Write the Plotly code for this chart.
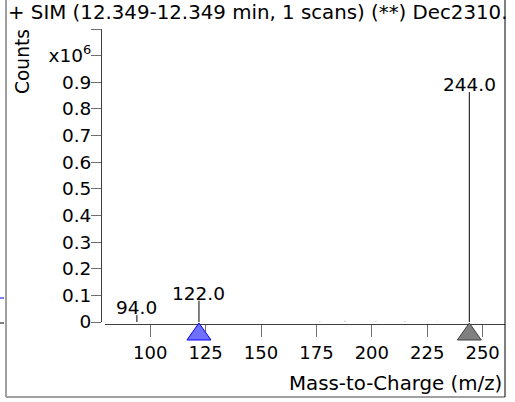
import plotly.graph_objects as go

# ---- data ----
peak_mz = [94.0, 122.0, 244.0]
peak_counts = [26000, 80000, 863000]
peak_labels = ["94.0", "122.0", "244.0"]
noise_mz = [176.6, 187.9, 201.9, 215.0, 229.5]
noise_counts = [3000, 5000, 4000, 4000, 2000]
ion_mz = [122.0, 244.0]
ion_fill = ["#7070ff", "#808080"]
ion_line = ["#0000ff", "#404040"]
x_ticks = [100, 125, 150, 175, 200, 225, 250]
y_ticks = [0, 100000, 200000, 300000, 400000, 500000, 600000, 700000, 800000, 900000, 1000000]
y_ticktext = ["0", "0.1", "0.2", "0.3", "0.4", "0.5", "0.6", "0.7", "0.8", "0.9", "x10<sup>6</sup>"]
y_top = 1100000
title_text = "+ SIM (12.349-12.349 min, 1 scans) (**) Dec2310."
x_title = "Mass-to-Charge (m/z)"
y_title = "Counts"

W, H = 515, 402
L, R, T, B = 101, 10, 29, 78
PW, PH = W - L - R, H - T - B
FONT = "DejaVu Sans"


def px(x):
    return (x - L) / PW


def py(y):
    return (H - B - y) / PH


def stems(xs, ys):
    sx, sy = [], []
    for a, b in zip(xs, ys):
        sx += [a, a, None]
        sy += [0, b, None]
    return sx, sy


fig = go.Figure()
nx, ny = stems(noise_mz, noise_counts)
fig.add_trace(go.Scatter(x=nx, y=ny, mode="lines", line=dict(color="#b0b0b0", width=1),
                         hoverinfo="skip", showlegend=False))
sx, sy = stems(peak_mz, peak_counts)
fig.add_trace(go.Scatter(x=sx, y=sy, mode="lines", line=dict(color="#000000", width=1),
                         hoverinfo="skip", showlegend=False))

annotations = []
for m, c, t in zip(peak_mz, peak_counts, peak_labels):
    annotations.append(dict(x=m, y=c, xref="x", yref="y", text=t, showarrow=False,
                            xanchor="center", yanchor="bottom", yshift=-5,
                            font=dict(family=FONT, size=18.5, color="#000")))
annotations.append(dict(x=px(6), y=py(12), xref="paper", yref="paper", text=title_text,
                        showarrow=False, xanchor="left", yanchor="middle",
                        font=dict(family=FONT, size=19.8, color="#000")))
annotations.append(dict(x=px(504), y=py(383), xref="paper", yref="paper", text=x_title,
                        showarrow=False, xanchor="right", yanchor="middle",
                        font=dict(family=FONT, size=19.8, color="#000")))
annotations.append(dict(x=px(22), y=py(62), xref="paper", yref="paper", text=y_title,
                        showarrow=False, xanchor="center", yanchor="middle", textangle=-90,
                        font=dict(family=FONT, size=18.6, color="#000")))

shapes = []
for m, fc, lc in zip(ion_mz, ion_fill, ion_line):
    shapes.append(dict(type="path", xref="x", yref="paper", xsizemode="pixel", ysizemode="pixel",
                       xanchor=m, yanchor=0, path="M0,1 L-12,-16 L12,-16 Z",
                       fillcolor=fc, line=dict(color=lc, width=1), layer="above"))
# frame
shapes.append(dict(type="line", xref="paper", yref="paper", x0=px(6), x1=px(6), y0=py(0), y1=py(397),
                   line=dict(color="#a0a0a0", width=2)))
shapes.append(dict(type="line", xref="paper", yref="paper", x0=px(6), x1=px(505), y0=py(397), y1=py(397),
                   line=dict(color="#a0a0a0", width=2)))
shapes.append(dict(type="line", xref="paper", yref="paper", x0=px(505), x1=px(505), y0=py(0), y1=py(397),
                   line=dict(color="#000000", width=1)))
# fragments of neighbouring panel
shapes.append(dict(type="line", xref="paper", yref="paper", x0=px(0), x1=px(4), y0=py(298), y1=py(298),
                   line=dict(color="#0000ff", width=1)))
shapes.append(dict(type="line", xref="paper", yref="paper", x0=px(0), x1=px(4), y0=py(323), y1=py(323),
                   line=dict(color="#000000", width=1)))

fig.update_layout(
    width=W, height=H,
    margin=dict(l=L, r=R, t=T, b=B, autoexpand=False),
    paper_bgcolor="white", plot_bgcolor="white",
    showlegend=False,
    annotations=annotations,
    shapes=shapes,
    xaxis=dict(domain=[4 / PW, 1], range=[79.6, 260.1], anchor="free", position=0,
               showline=True, linecolor="#404040", linewidth=1, showgrid=False, zeroline=False,
               ticks="outside", ticklen=12, tickcolor="#707070", tickwidth=1,
               tickvals=x_ticks, ticktext=[str(v) for v in x_ticks],
               tickfont=dict(family=FONT, size=18, color="#000")),
    yaxis=dict(domain=[2 / PH, 1], range=[0, y_top], anchor="free", position=0,
               showline=True, linecolor="#404040", linewidth=1, showgrid=False, zeroline=False,
               ticks="outside", ticklen=10, tickcolor="#707070", tickwidth=1,
               ticklabelstandoff=-4,
               tickvals=y_ticks, ticktext=y_ticktext,
               minor=dict(tickvals=[y_top], ticks="outside", ticklen=10, tickcolor="#707070",
                          tickwidth=1, showgrid=False),
               tickfont=dict(family=FONT, size=18.5, color="#000")),
)

fig.write_html("out.html", config={"displayModeBar": False},
               post_script="document.body.style.margin='0';document.body.style.padding='0';")
